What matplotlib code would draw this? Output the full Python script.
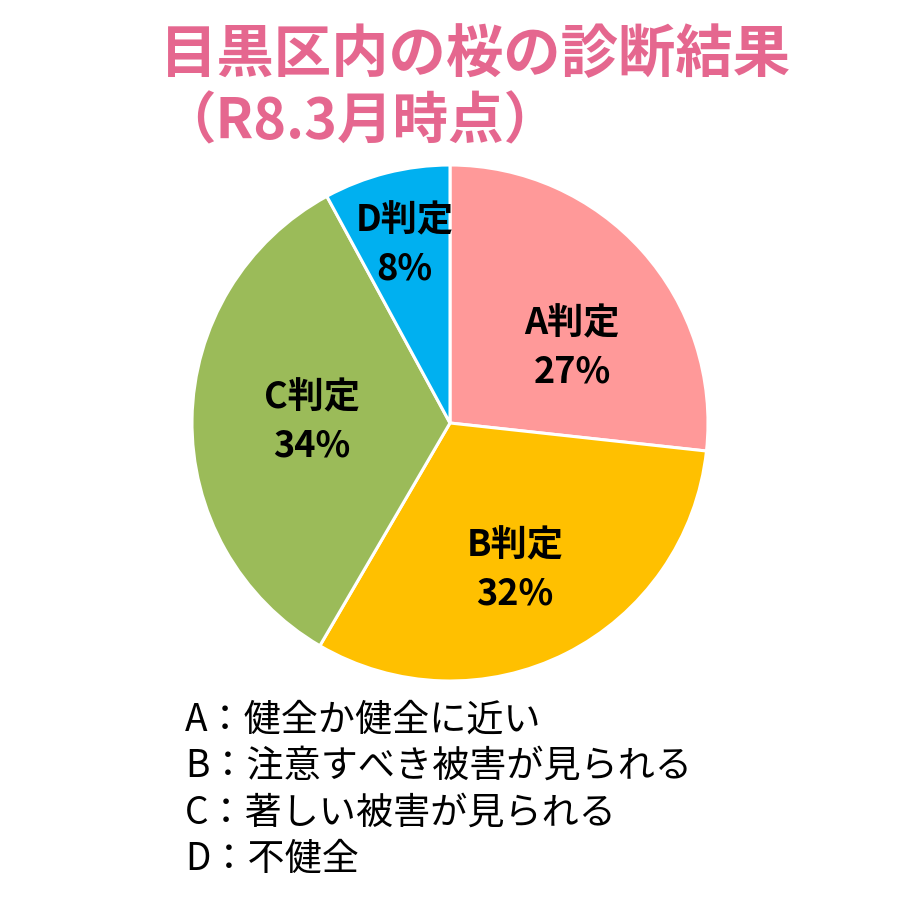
import numpy as np
import matplotlib
matplotlib.use("Agg")
import matplotlib.pyplot as plt

plt.rcParams["font.family"] = ["Noto Sans CJK JP", "DejaVu Sans"]

# data
grades = ["A", "B", "C", "D"]
shares = [27, 32, 34, 8]
colors = ["#FF9999", "#FFC000", "#9BBB59", "#00B0F0"]
descriptions = [
    "健全か健全に近い",
    "注意すべき被害が見られる",
    "著しい被害が見られる",
    "不健全",
]
title_lines = ["目黒区内の桜の診断結果", "（R8.3月時点）"]

# label placement (radius as fraction of pie radius, angle shift from wedge middle)
label_radius = [0.555, 0.623, 0.535, 0.712]
label_shift = [-10.3, -2.9, 0.5, 0.0]

fig = plt.figure(figsize=(9, 9.06), dpi=100)
ax = fig.add_axes([192 / 900, (906 - 681) / 906, 516 / 900, 516 / 906])

wedges, _ = ax.pie(
    shares,
    colors=colors,
    startangle=90,
    counterclock=False,
    radius=1,
    wedgeprops=dict(edgecolor="white", linewidth=2.2),
)
ax.set_xlim(-1, 1)
ax.set_ylim(-1, 1)
ax.set_aspect("equal")
ax.axis("off")

for w, g, s, r, d in zip(wedges, grades, shares, label_radius, label_shift):
    mid = np.deg2rad((w.theta1 + w.theta2) / 2 + d)
    ax.text(
        r * np.cos(mid),
        r * np.sin(mid),
        f"{g}判定\n{s}%",
        ha="center",
        va="center",
        fontsize=26,
        fontweight="bold",
        linespacing=1.4,
        color="black",
    )

pink = "#E5678F"
fig.text(160 / 900, 1 - 55 / 906, title_lines[0], fontsize=41.3, fontweight="bold",
         color=pink, ha="left", va="center")
fig.text(160 / 900, 1 - 122 / 906, title_lines[1], fontsize=40, fontweight="bold",
         color=pink, ha="left", va="center")

for i, (g, desc) in enumerate(zip(grades, descriptions)):
    fig.text(185 / 900, 1 - (720 + 46.5 * i) / 906, f"{g}：{desc}",
             fontsize=26.7, color="black", ha="left", va="center")

fig.savefig("out.png", dpi=100, facecolor="white")
